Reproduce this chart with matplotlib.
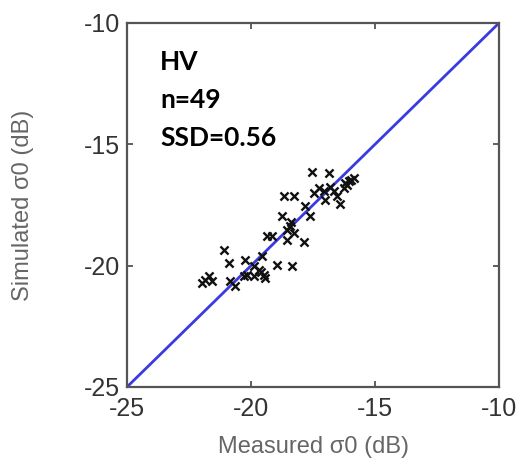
import numpy as np
import matplotlib
matplotlib.use("Agg")
import matplotlib.pyplot as plt

# measured vs simulated backscatter, HV (dB)
measured = [-17.54, -16.87, -15.86, -16.06, -16.13, -16.26, -15.95, -16.20,
            -17.27, -17.07, -16.67, -16.53, -17.00, -16.40, -17.47, -16.80,
            -18.68, -18.28, -17.81, -17.61, -18.75, -18.41, -18.55, -18.28,
            -19.35, -19.15, -18.55, -17.88, -18.40,
            -21.10, -20.90, -20.23, -19.56, -18.95, -18.35, -19.89, -19.69,
            -19.49, -19.42, -20.16, -20.30, -20.83, -20.63, -21.70, -21.84,
            -21.98, -21.57, -19.89, -19.60]
simulated = [-16.15, -16.18, -16.39, -16.52, -16.66, -16.80, -16.45, -16.60,
             -16.80, -16.94, -16.94, -17.14, -17.28, -17.45, -17.00, -16.75,
             -17.14, -17.14, -17.55, -17.94, -17.94, -18.38, -18.52, -18.65,
             -18.79, -18.79, -18.93, -19.04, -18.20,
             -19.34, -19.89, -19.75, -19.62, -19.96, -20.03, -20.03, -20.16,
             -20.37, -20.51, -20.37, -20.44, -20.65, -20.85, -20.44, -20.58,
             -20.71, -20.65, -20.44, -20.25]
ticks = [-25, -20, -15, -10]
stats = ["HV", "n=49", "SSD=0.56"]

plt.rcParams['font.family'] = ['Liberation Sans', 'DejaVu Sans']
plt.rcParams['axes.unicode_minus'] = False

fig = plt.figure(figsize=(5.19, 4.59), dpi=100)
ax = fig.add_axes([0.2447, 0.1569, 0.7168, 0.793])

ax.plot([-25, -10], [-25, -10], color='#3a3ae0', lw=2, zorder=2)
ax.scatter(measured, simulated, marker='x', s=34, c='#111111', lw=1.7, zorder=3)

ax.set_xlim(-25, -10)
ax.set_ylim(-25, -10)
ax.set_xticks(ticks)
ax.set_yticks(ticks)
ax.tick_params(direction='in', top=True, right=True, length=4, width=1.2,
               color='#444444', labelsize=18, labelcolor='#333333')
ax.tick_params(axis='x', pad=7)
ax.tick_params(axis='y', pad=5)
for s in ax.spines.values():
    s.set_linewidth(1.6)
    s.set_color('#555555')

ax.set_xlabel("Measured σ0 (dB)", fontsize=17, color='#666666', va='center')
ax.set_ylabel("Simulated σ0 (dB)", fontsize=17, color='#666666', va='center')
ax.xaxis.set_label_coords(0.5, -0.165)
ax.yaxis.set_label_coords(-0.28, 0.5)

for i, t in enumerate(stats):
    ax.text(-23.67, -11.94 - 1.56 * i, t, fontsize=19, fontweight='bold',
            family=['Lato', 'DejaVu Sans'], color='black')

fig.savefig("out.png", dpi=100)
